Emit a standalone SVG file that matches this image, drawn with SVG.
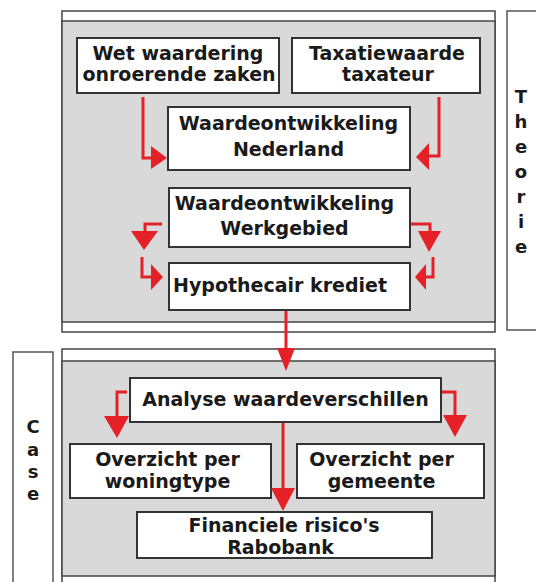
<svg xmlns="http://www.w3.org/2000/svg" width="536" height="582" viewBox="0 0 536 582">
<style>
.panel{fill:#ffffff;stroke:#444;stroke-width:1.5}
.gray{fill:#d9d9d9;stroke:#444;stroke-width:1.5}
.side{fill:#ffffff;stroke:#555;stroke-width:1.5}
.box{fill:#ffffff;stroke:#333;stroke-width:2}
.t{font-family:"DejaVu Sans",Verdana,sans-serif;font-weight:bold;font-size:19px;fill:#1a1a1a;text-anchor:middle}
.s{font-family:"DejaVu Sans",Verdana,sans-serif;font-weight:bold;font-size:18px;fill:#1a1a1a;text-anchor:middle}
.ln{fill:none;stroke:#e52128;stroke-width:3}
.hd{fill:#e52128;stroke:none}
</style>
<rect width="536" height="582" fill="#ffffff"/>
<g id="panel-theorie">
<rect class="panel" x="62" y="11" width="433" height="321"/>
<rect class="gray" x="62" y="21" width="433" height="301"/>
</g>
<g id="panel-case">
<rect class="panel" x="62" y="349" width="433" height="250"/>
<rect class="gray" x="62" y="361" width="433" height="215"/>
</g>
<g id="label-theorie">
<rect class="side" x="507" y="11" width="40" height="319"/>
<text class="s" x="521" y="103">T</text>
<text class="s" x="521" y="128">h</text>
<text class="s" x="521" y="153">e</text>
<text class="s" x="521" y="178">o</text>
<text class="s" x="521" y="203">r</text>
<text class="s" x="521" y="228">i</text>
<text class="s" x="521" y="253">e</text>
</g>
<g id="label-case">
<rect class="side" x="13" y="352" width="40" height="250"/>
<text class="s" x="33" y="433">C</text>
<text class="s" x="33" y="456">a</text>
<text class="s" x="33" y="478">s</text>
<text class="s" x="33" y="500">e</text>
</g>
<g id="n-wet">
<rect class="box" x="77" y="38" width="202" height="55"/>
<text class="t" x="178" y="60">Wet waardering</text>
<text class="t" x="179" y="81">onroerende zaken</text>
</g>
<g id="n-taxatie">
<rect class="box" x="292" y="38" width="188" height="55"/>
<text class="t" x="387" y="60">Taxatiewaarde</text>
<text class="t" x="388" y="81">taxateur</text>
</g>
<g id="n-nederland">
<rect class="box" x="168" y="107" width="242" height="63"/>
<text class="t" x="288.5" y="130">Waardeontwikkeling</text>
<text class="t" x="288.5" y="156">Nederland</text>
</g>
<g id="n-werkgebied">
<rect class="box" x="169" y="188" width="241" height="59"/>
<text class="t" x="284.5" y="210">Waardeontwikkeling</text>
<text class="t" x="284.5" y="235">Werkgebied</text>
</g>
<g id="n-hypo">
<rect class="box" x="169" y="263" width="241" height="47"/>
<text class="t" x="280" y="292">Hypothecair krediet</text>
</g>
<g id="n-analyse">
<rect class="box" x="130" y="378" width="311" height="44"/>
<text class="t" x="285.5" y="406">Analyse waardeverschillen</text>
</g>
<g id="n-woningtype">
<rect class="box" x="70" y="444" width="201" height="54"/>
<text class="t" x="167.5" y="466">Overzicht per</text>
<text class="t" x="167.5" y="488">woningtype</text>
</g>
<g id="n-gemeente">
<rect class="box" x="297" y="444" width="187" height="54"/>
<text class="t" x="381.5" y="466">Overzicht per</text>
<text class="t" x="381.5" y="488">gemeente</text>
</g>
<g id="n-financiele">
<rect class="box" x="137" y="512" width="295" height="46"/>
<text class="t" x="284" y="532">Financiele risico's</text>
<text class="t" x="280.5" y="554">Rabobank</text>
</g>
<g id="connectors">
<path class="ln" d="M143,97 V158 H152"/><polygon class="hd" points="151,146 151,169 167,158"/>
<path class="ln" d="M439,97 V156 H428"/><polygon class="hd" points="429,143 429,170 416,157"/>
<path class="ln" d="M162,224 H145 V231"/><polygon class="hd" points="131,231 158,231 144,250"/>
<path class="ln" d="M142,257 V277 H151"/><polygon class="hd" points="151,264 151,290 163,277"/>
<path class="ln" d="M411,224 H430 V231"/><polygon class="hd" points="418,231 441,231 429,252"/>
<path class="ln" d="M433,257 V277 H426"/><polygon class="hd" points="426,264 426,290 415,277"/>
<path class="ln" d="M286,311 V348"/><polygon class="hd" points="277,348 295,348 286,371"/>
<path class="ln" d="M127,392 H117 V416"/><polygon class="hd" points="104,416 129,416 117,438"/>
<path class="ln" d="M442,392 H455 V415"/><polygon class="hd" points="443,415 467,415 455,437"/>
<path class="ln" d="M283,423 V488"/><polygon class="hd" points="271,488 295,488 283,511"/>
</g>
</svg>
